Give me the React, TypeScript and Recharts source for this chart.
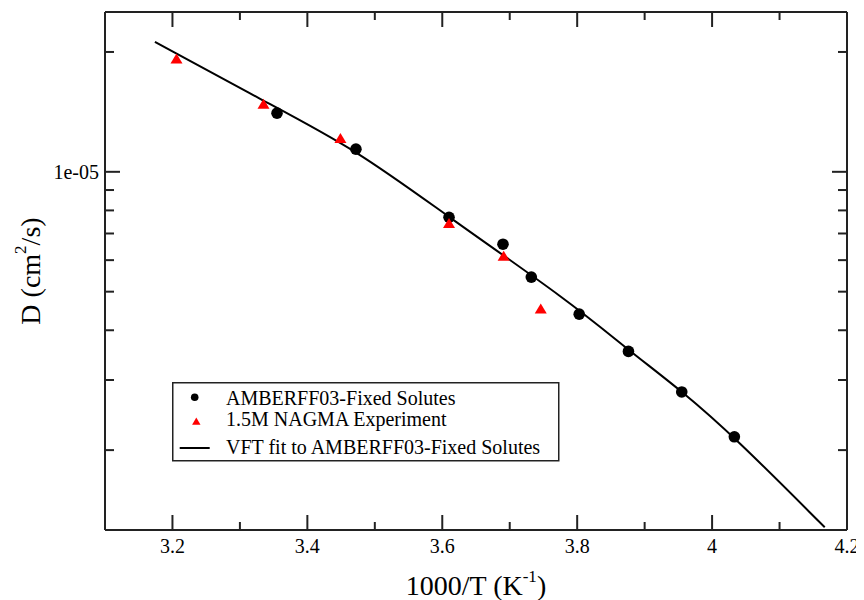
import React from 'react';
import { ComposedChart, XAxis, YAxis, Scatter, Line, Legend, Label } from 'recharts';

// ---- Data ----
const xMajorTicks = [3.2, 3.4, 3.6, 3.8, 4.0, 4.2];
const xMinorTicks = [3.3, 3.5, 3.7, 3.9, 4.1];
const yMajorTicks = [1e-5];
const yMajorLabels = ['1e-05'];
const yMinorTicks = [2e-6, 3e-6, 4e-6, 5e-6, 6e-6, 7e-6, 8e-6, 9e-6, 2e-5];

const amberX = [3.355, 3.472, 3.61, 3.69, 3.732, 3.803, 3.876, 3.955, 4.033];
const amberD = [1.404e-5, 1.14e-5, 0.769e-5, 0.658e-5, 0.544e-5, 0.439e-5, 0.354e-5, 0.28e-5, 0.216e-5];

const nagmaX = [3.206, 3.335, 3.449, 3.61, 3.691, 3.746];
const nagmaD = [1.92e-5, 1.479e-5, 1.213e-5, 0.742e-5, 0.614e-5, 0.452e-5];

const fitX = [3.174, 3.334, 3.474, 3.61, 3.79, 3.876, 3.955, 4.033, 4.167];
const fitD = [2.121e-5, 1.51e-5, 1.134e-5, 0.768e-5, 0.471e-5, 0.3565e-5, 0.2817e-5, 0.2159e-5, 0.128e-5];

const legendLabels = [
  'AMBERFF03-Fixed Solutes',
  '1.5M NAGMA Experiment',
  'VFT fit to AMBERFF03-Fixed Solutes',
];

const xDomain = [3.1, 4.2];
const yDomain = [1.26e-6, 2.52e-5];

// ---- Derived tables ----
const amberData = amberX.map((x, i) => ({ x, y: amberD[i] }));
const nagmaData = nagmaX.map((x, i) => ({ x, y: nagmaD[i] }));
const fitData = fitX.map((x, i) => ({ x, y: fitD[i] }));
const xTicks = [...xMajorTicks, ...xMinorTicks].sort((a, b) => a - b);
const yTicks = [...yMajorTicks, ...yMinorTicks].sort((a, b) => a - b);

const FONT = '"Liberation Serif", "Times New Roman", serif';
const FRAME = '#222';

const isIn = (arr: number[], v: number) => arr.some((a) => Math.abs(a - v) < Math.abs(a) * 1e-6 + 1e-12);

const BottomTick = (props: any) => {
  const { x, y, payload } = props;
  const major = isIn(xMajorTicks, payload.value);
  return (
    <g>
      <line x1={x} x2={x} y1={y} y2={y - (major ? 15 : 8)} stroke={FRAME} strokeWidth={2} />
      {major && (
        <text x={x} y={y + 23} textAnchor="middle" fontFamily={FONT} fontSize={20} fill="#000">
          {String(payload.value)}
        </text>
      )}
    </g>
  );
};

const TopTick = (props: any) => {
  const { x, y, payload } = props;
  const major = isIn(xMajorTicks, payload.value);
  return <line x1={x} x2={x} y1={y} y2={y + (major ? 15 : 8)} stroke={FRAME} strokeWidth={2} />;
};

const LeftTick = (props: any) => {
  const { x, y, payload } = props;
  const idx = yMajorTicks.findIndex((a) => Math.abs(a - payload.value) < a * 1e-6);
  const major = idx >= 0;
  return (
    <g>
      <line x1={x} x2={x + (major ? 15 : 9)} y1={y} y2={y} stroke={FRAME} strokeWidth={2} />
      {major && (
        <text x={x - 6} y={y + 7} textAnchor="end" fontFamily={FONT} fontSize={20} fill="#000">
          {yMajorLabels[idx]}
        </text>
      )}
    </g>
  );
};

const RightTick = (props: any) => {
  const { x, y, payload } = props;
  const major = isIn(yMajorTicks, payload.value);
  return <line x1={x} x2={x - (major ? 15 : 9)} y1={y} y2={y} stroke={FRAME} strokeWidth={2} />;
};

const XTitle = (props: any) => {
  const { viewBox } = props;
  const cx = viewBox.x + viewBox.width / 2;
  const by = viewBox.y + 65;
  return (
    <text x={cx} y={by} textAnchor="middle" fontFamily={FONT} fontSize={28} fill="#000">
      <tspan>1000/T (K</tspan>
      <tspan dy={-13} fontSize={17}>-1</tspan>
      <tspan dy={13}>)</tspan>
    </text>
  );
};

const YTitle = (props: any) => {
  const { viewBox } = props;
  const cy = viewBox.y + viewBox.height / 2;
  const bx = 32;
  return (
    <text
      x={bx}
      y={cy}
      transform={`rotate(-90, ${bx}, ${cy})`}
      textAnchor="middle"
      fontFamily={FONT}
      fontSize={28}
      fill="#000"
    >
      <tspan>D (cm</tspan>
      <tspan dy={-14} fontSize={17}>2</tspan>
      <tspan dy={14}>/s)</tspan>
    </text>
  );
};

const CircleShape = (props: any) => <circle cx={props.cx} cy={props.cy} r={5.8} fill="#000" />;
const TriangleShape = (props: any) => {
  const { cx, cy } = props;
  return <polygon points={`${cx},${cy - 5.5} ${cx + 6},${cy + 4.5} ${cx - 6},${cy + 4.5}`} fill="#ff0000" />;
};

const LegendBox = () => (
  <svg width={388} height={81} style={{ display: 'block' }}>
    <rect x={0.75} y={0.75} width={386} height={78} fill="#fff" stroke={FRAME} strokeWidth={1.5} />
    <circle cx={22.7} cy={15.3} r={3.8} fill="#000" />
    <polygon points="24.3,35.6 28.5,42.8 20.1,42.8" fill="#ff0000" />
    <line x1={7.7} x2={37.7} y1={66} y2={66} stroke="#000" strokeWidth={2} />
    {legendLabels.map((t, i) => (
      <text key={t} x={54} y={[22.7, 44.3, 72][i]} fontFamily={FONT} fontSize={20} fill="#000">
        {t}
      </text>
    ))}
  </svg>
);

export default function App() {
  return (
    <ComposedChart width={856} height={592} margin={{ top: 3, right: 16, bottom: 0, left: 0 }}>
      <XAxis
        xAxisId="b"
        type="number"
        dataKey="x"
        domain={xDomain}
        allowDataOverflow
        ticks={xTicks}
        interval={0}
        tickSize={0}
        tickMargin={0}
        tickLine={false}
        tick={<BottomTick />}
        axisLine={{ stroke: FRAME, strokeWidth: 2 }}
        height={70}
      >
        <Label content={<XTitle />} />
      </XAxis>
      <XAxis
        xAxisId="t"
        orientation="top"
        type="number"
        dataKey="x"
        domain={xDomain}
        allowDataOverflow
        ticks={xTicks}
        interval={0}
        tickSize={0}
        tickMargin={0}
        tickLine={false}
        tick={<TopTick />}
        axisLine={{ stroke: FRAME, strokeWidth: 2 }}
        height={1}
      />
      <YAxis
        yAxisId="l"
        type="number"
        dataKey="y"
        scale="log"
        domain={yDomain}
        allowDataOverflow
        ticks={yTicks}
        interval={0}
        tickSize={0}
        tickMargin={0}
        tickLine={false}
        tick={<LeftTick />}
        axisLine={{ stroke: FRAME, strokeWidth: 2 }}
        width={97}
      >
        <Label content={<YTitle />} />
      </YAxis>
      <YAxis
        yAxisId="r"
        orientation="right"
        type="number"
        dataKey="y"
        scale="log"
        domain={yDomain}
        allowDataOverflow
        ticks={yTicks}
        interval={0}
        tickSize={0}
        tickMargin={0}
        tickLine={false}
        tick={<RightTick />}
        axisLine={{ stroke: FRAME, strokeWidth: 2 }}
        width={1}
      />
      <Scatter
        name={legendLabels[0]}
        xAxisId="b"
        yAxisId="l"
        data={amberData}
        shape={<CircleShape />}
        isAnimationActive={false}
      />
      <Scatter
        name={legendLabels[1]}
        xAxisId="b"
        yAxisId="l"
        data={nagmaData}
        shape={<TriangleShape />}
        isAnimationActive={false}
      />
      <Line
        name={legendLabels[2]}
        xAxisId="t"
        yAxisId="r"
        data={fitData}
        dataKey="y"
        type="basis"
        stroke="#000"
        strokeWidth={2}
        dot={false}
        activeDot={false}
        isAnimationActive={false}
      />
      <Legend
        layout="vertical"
        align="center"
        verticalAlign="middle"
        wrapperStyle={{ left: 164, top: 374, width: 388, height: 81 }}
        content={<LegendBox />}
      />
    </ComposedChart>
  );
}
